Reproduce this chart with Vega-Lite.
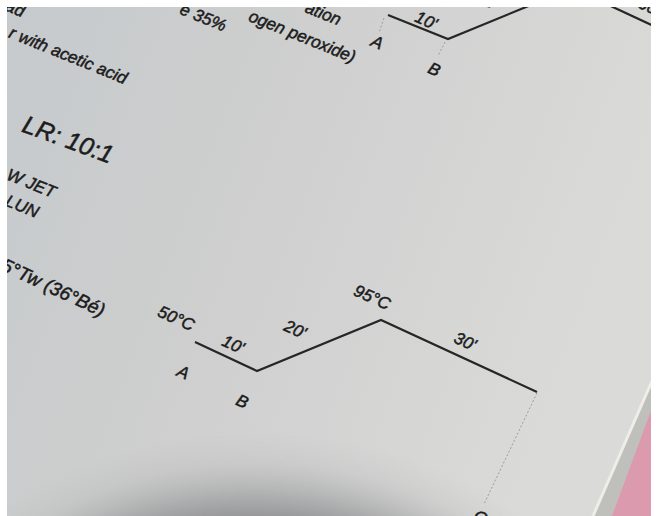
{
  "$schema": "https://vega.github.io/schema/vega-lite/v6.json",
  "width": 644,
  "height": 509,
  "autosize": "none",
  "padding": {"left": 7, "top": 7, "right": 5, "bottom": 0},
  "background": "white",
  "config": {"view": {"stroke": null}},
  "datasets": {
    "solid": [
      {"seg": "lower", "ord": 1, "x": 195, "y": 342},
      {"seg": "lower", "ord": 2, "x": 257, "y": 371},
      {"seg": "lower", "ord": 3, "x": 381, "y": 320},
      {"seg": "lower", "ord": 4, "x": 537, "y": 392},
      {"seg": "upper", "ord": 1, "x": 388, "y": 15},
      {"seg": "upper", "ord": 2, "x": 448, "y": 39},
      {"seg": "upper", "ord": 3, "x": 548, "y": -2},
      {"seg": "upperR", "ord": 1, "x": 600, "y": 1},
      {"seg": "upperR", "ord": 2, "x": 660, "y": 29}
    ],
    "dotted": [
      {"seg": "c", "ord": 1, "x": 537, "y": 393},
      {"seg": "c", "ord": 2, "x": 484, "y": 504},
      {"seg": "ua", "ord": 1, "x": 384, "y": 18},
      {"seg": "ua", "ord": 2, "x": 379, "y": 33},
      {"seg": "ub", "ord": 1, "x": 445, "y": 42},
      {"seg": "ub", "ord": 2, "x": 438, "y": 56}
    ],
    "labels": [
      {"t": "50°C", "x": 176, "y": 319},
      {"t": "10'", "x": 233, "y": 345},
      {"t": "A", "x": 183, "y": 373},
      {"t": "B", "x": 242, "y": 402},
      {"t": "20'", "x": 295, "y": 330},
      {"t": "95°C", "x": 372, "y": 298},
      {"t": "30'", "x": 465, "y": 342},
      {"t": "C", "x": 480, "y": 518},
      {"t": "10'", "x": 426, "y": 21},
      {"t": "A", "x": 377, "y": 43},
      {"t": "B", "x": 434, "y": 70},
      {"t": "20'", "x": 487, "y": 1},
      {"t": "30'", "x": 649, "y": 7}
    ],
    "notes": [
      {"t": "ad", "x": 15, "y": 9},
      {"t": "r with acetic acid", "x": 68, "y": 56},
      {"t": "e 35%", "x": 203, "y": 18},
      {"t": "ogen peroxide)", "x": 302, "y": 37},
      {"t": "ation", "x": 323, "y": 14},
      {"t": "W JET", "x": 31, "y": 184},
      {"t": "LUN", "x": 22, "y": 207}
    ],
    "notes2": [
      {"t": "5°Tw (36°Bé)", "x": 53, "y": 288}
    ],
    "title": [
      {"t": "LR: 10:1", "x": 68, "y": 140}
    ],
    "shadow": [
      {"x": -215, "x2": 725, "y": 430, "y2": 1370}
    ],
    "edgeGray": [
      {"x": 592, "y": 516, "y2": 516},
      {"x": 652, "y": 380, "y2": 516}
    ],
    "pink": [
      {"x": 612, "y": 516, "y2": 516},
      {"x": 652, "y": 408, "y2": 516}
    ],
    "edgeLine": [
      {"seg": "e", "ord": 1, "x": 593, "y": 516},
      {"seg": "e", "ord": 2, "x": 652, "y": 381}
    ]
  },
  "encoding": {
    "x": {"field": "x", "type": "quantitative", "scale": {"domain": [7, 651], "nice": false, "zero": false}, "axis": null},
    "y": {"field": "y", "type": "quantitative", "scale": {"domain": [7, 516], "nice": false, "zero": false, "reverse": true}, "axis": null}
  },
  "layer": [
    {
      "data": {"values": [{"k": 1}]},
      "mark": {
        "type": "rect",
        "clip": true,
        "color": {
          "gradient": "linear", "x1": 0, "y1": 0, "x2": 1, "y2": 0.3,
          "stops": [
            {"offset": 0, "color": "#c6cacd"},
            {"offset": 0.45, "color": "#cecfce"},
            {"offset": 1, "color": "#dadbd9"}
          ]
        }
      },
      "encoding": {
        "x": {"value": 0}, "x2": {"value": "width"},
        "y": {"value": 0}, "y2": {"value": "height"}
      }
    },
    {
      "data": {"name": "shadow"},
      "mark": {
        "type": "rect",
        "clip": true,
        "color": {
          "gradient": "radial", "x1": 0.5, "y1": 0.5, "r1": 0, "x2": 0.5, "y2": 0.5, "r2": 0.5,
          "stops": [
            {"offset": 0, "color": "rgba(100,100,104,0.7)"},
            {"offset": 0.8, "color": "rgba(100,100,104,0.62)"},
            {"offset": 0.86, "color": "rgba(120,120,124,0.4)"},
            {"offset": 0.93, "color": "rgba(150,150,152,0.14)"},
            {"offset": 1, "color": "rgba(170,170,170,0)"}
          ]
        }
      },
      "encoding": {"x2": {"field": "x2"}, "y2": {"field": "y2"}}
    },
    {
      "data": {"name": "edgeGray"},
      "mark": {"type": "area", "clip": true, "color": "#bfbfbb", "opacity": 1},
      "encoding": {"y2": {"field": "y2"}}
    },
    {
      "data": {"name": "pink"},
      "mark": {"type": "area", "clip": true, "color": "#dc9aae", "opacity": 1},
      "encoding": {"y2": {"field": "y2"}}
    },
    {
      "data": {"name": "edgeLine"},
      "mark": {"type": "line", "clip": true, "color": "#eeede8", "strokeWidth": 3},
      "encoding": {"detail": {"field": "seg"}, "order": {"field": "ord"}}
    },
    {
      "data": {"name": "dotted"},
      "mark": {"type": "line", "clip": true, "color": "#9c9c9c", "strokeWidth": 1, "strokeDash": [2, 2]},
      "encoding": {"detail": {"field": "seg"}, "order": {"field": "ord"}}
    },
    {
      "data": {"name": "solid"},
      "mark": {"type": "line", "clip": true, "color": "#262626", "strokeWidth": 2.2},
      "encoding": {"detail": {"field": "seg"}, "order": {"field": "ord"}}
    },
    {
      "data": {"name": "labels"},
      "mark": {"type": "text", "clip": true, "font": "Liberation Sans", "fontStyle": "italic", "fontSize": 17, "angle": 24, "align": "center", "baseline": "middle", "fill": "#1c1c1c", "stroke": "#1c1c1c", "strokeWidth": 0.5},
      "encoding": {"text": {"field": "t"}}
    },
    {
      "data": {"name": "notes"},
      "mark": {"type": "text", "clip": true, "font": "Liberation Sans", "fontStyle": "italic", "fontSize": 17, "angle": 22, "align": "center", "baseline": "middle", "fill": "#1c1c1c", "stroke": "#1c1c1c", "strokeWidth": 0.5},
      "encoding": {"text": {"field": "t"}}
    },
    {
      "data": {"name": "notes2"},
      "mark": {"type": "text", "clip": true, "font": "Liberation Sans", "fontStyle": "italic", "fontSize": 19, "angle": 25, "align": "center", "baseline": "middle", "fill": "#1c1c1c", "stroke": "#1c1c1c", "strokeWidth": 0.5},
      "encoding": {"text": {"field": "t"}}
    },
    {
      "data": {"name": "title"},
      "mark": {"type": "text", "clip": true, "font": "Liberation Sans", "fontStyle": "italic", "fontSize": 25, "angle": 20, "align": "center", "baseline": "middle", "fill": "#1c1c1c", "stroke": "#1c1c1c", "strokeWidth": 0.5},
      "encoding": {"text": {"field": "t"}}
    }
  ]
}
